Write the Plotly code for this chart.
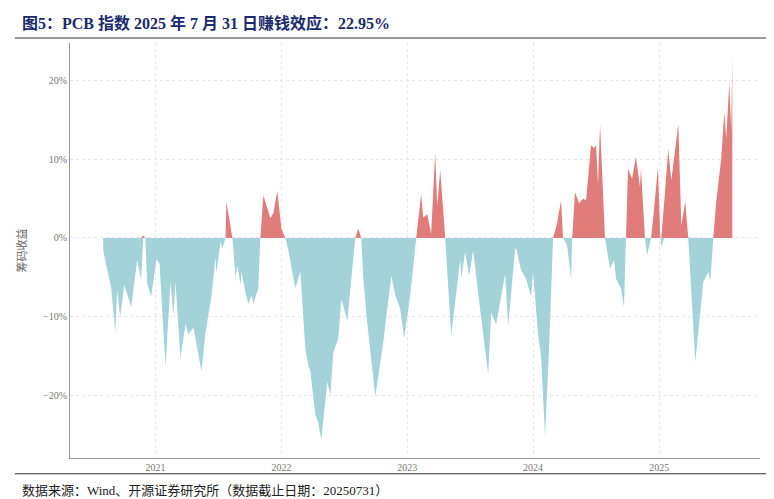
import pandas as pd
import plotly.graph_objects as go

# ==============================
# Data (decimal year, 筹码收益 %)
# ==============================
years = [2020.587, 2020.588, 2020.651, 2020.683, 2020.698, 2020.722, 2020.754, 2020.810, 2020.857, 2020.889,
         2020.905, 2020.921, 2020.937, 2020.968, 2021.008, 2021.032, 2021.079, 2021.103, 2021.119, 2021.143,
         2021.159, 2021.198, 2021.238, 2021.262, 2021.302, 2021.365, 2021.397, 2021.444, 2021.476, 2021.484,
         2021.516, 2021.532, 2021.556, 2021.563, 2021.595, 2021.611, 2021.635, 2021.651, 2021.675, 2021.683,
         2021.714, 2021.738, 2021.762, 2021.778, 2021.817, 2021.833, 2021.857, 2021.913, 2021.937, 2021.968,
         2022.000, 2022.032, 2022.056, 2022.111, 2022.151, 2022.190, 2022.214, 2022.230, 2022.270, 2022.294,
         2022.317, 2022.365, 2022.389, 2022.413, 2022.452, 2022.476, 2022.524, 2022.571, 2022.587, 2022.611,
         2022.635, 2022.651, 2022.675, 2022.746, 2022.810, 2022.873, 2022.905, 2022.944, 2022.976, 2023.024,
         2023.056, 2023.071, 2023.111, 2023.127, 2023.159, 2023.190, 2023.222, 2023.238, 2023.262, 2023.294,
         2023.302, 2023.349, 2023.421, 2023.429, 2023.460, 2023.492, 2023.524, 2023.563, 2023.643, 2023.667,
         2023.706, 2023.778, 2023.802, 2023.857, 2023.865, 2023.905, 2023.944, 2023.984, 2024.000, 2024.040,
         2024.063, 2024.095, 2024.127, 2024.159, 2024.190, 2024.222, 2024.238, 2024.270, 2024.302, 2024.310,
         2024.333, 2024.365, 2024.397, 2024.421, 2024.460, 2024.484, 2024.500, 2024.516, 2024.532, 2024.571,
         2024.611, 2024.643, 2024.659, 2024.698, 2024.722, 2024.738, 2024.754, 2024.786, 2024.817, 2024.849,
         2024.857, 2024.889, 2024.905, 2024.937, 2024.952, 2024.992, 2025.008, 2025.016, 2025.040, 2025.071,
         2025.095, 2025.151, 2025.175, 2025.206, 2025.230, 2025.286, 2025.325, 2025.349, 2025.389, 2025.405,
         2025.429, 2025.452, 2025.492, 2025.516, 2025.532, 2025.556, 2025.571, 2025.580]
returns = [0.0, -1.7, -6.4, -12.0, -6.7, -10.0, -6.0, -8.8, -2.8, -5.3,
           0.3, 0.0, -5.8, -7.5, -2.7, -3.3, -16.4, -9.0, -5.7, -9.9,
           -5.6, -15.3, -11.0, -12.3, -11.4, -17.0, -12.0, -7.5, -2.5, -4.5,
           -0.5, -1.3, 0.0, 4.6, 1.2, 0.0, -5.0, -3.5, -6.0, -4.3,
           -6.9, -8.4, -7.3, -8.4, -6.4, 0.0, 5.4, 2.5, 3.2, 6.0,
           1.2, 0.0, -1.6, -6.4, -4.3, -14.0, -16.2, -17.0, -22.5, -23.5,
           -25.7, -18.3, -20.0, -14.5, -12.8, -7.8, -10.5, -3.0, 0.0, 1.2,
           0.0, -5.2, -9.7, -20.2, -13.2, -4.8, -7.3, -9.0, -12.8, -7.3,
           -1.8, 0.0, 5.6, 2.6, 3.0, 0.5, 10.9, 4.1, 8.6, 2.6,
           0.0, -12.4, -2.7, -5.2, -1.8, -4.8, -1.6, -7.0, -17.3, -9.5,
           -11.0, -4.6, -11.2, -1.4, -1.3, -4.1, -5.2, -7.5, -4.3, -12.4,
           -15.0, -25.3, -14.0, 0.0, 1.8, 4.8, 0.0, -0.9, -5.2, 0.0,
           5.8, 4.4, 5.0, 4.8, 11.8, 11.4, 11.8, 6.9, 14.5, 0.0,
           -3.9, -2.8, -5.2, -6.4, -8.8, 0.0, 8.8, 7.5, 10.3, 6.5,
           8.8, 0.0, -2.2, 0.0, 2.2, 9.0, 0.0, -1.1, 4.8, 11.3,
           7.3, 14.5, 1.6, 4.6, 0.0, -15.8, -9.8, -5.6, -4.3, -5.6,
           0.0, 4.6, 10.1, 16.0, 12.6, 19.8, 13.5, 22.95]

df = pd.DataFrame({"year": years, "ret": returns})
df["date"] = [pd.Timestamp(int(y), 1, 1) + pd.Timedelta(days=(y - int(y)) * 365) for y in df["year"]]
df["pos"] = df["ret"].clip(lower=0)
df["neg"] = df["ret"].clip(upper=0)

# ==============================
# Figure
# ==============================
fig = go.Figure()
fig.add_trace(go.Scatter(x=df["date"], y=df["neg"], fill="tozeroy", mode="lines",
                         line=dict(width=0), fillcolor="#a3d2d8", showlegend=False))
fig.add_trace(go.Scatter(x=df["date"], y=df["pos"], fill="tozeroy", mode="lines",
                         line=dict(width=0), fillcolor="#e07d7a", showlegend=False))

fig.update_layout(
    width=774, height=499,
    margin=dict(l=62, r=22, t=35, b=49, autoexpand=False),
    plot_bgcolor="white", paper_bgcolor="white",
    font=dict(family="Liberation Serif, Noto Sans CJK SC", size=11, color="#777"),
    xaxis=dict(range=["2020-04-28", "2025-10-20"], showgrid=True, gridcolor="#e8e8e8", griddash="dot",
               tickvals=[f"{y}-01-01" for y in range(2021, 2026)], ticktext=[str(y) for y in range(2021, 2026)],
               showline=True, linecolor="#999", linewidth=1, ticks="", automargin=False,
               tickfont=dict(size=10, color="#777")),
    yaxis=dict(range=[-28, 24.8], showgrid=True, gridcolor="#e8e8e8", griddash="dot",
               tickvals=[-20, -10, 0, 10, 20], ticktext=["−20%", "−10%", "0%", "10%", "20%"],
               showline=True, linecolor="#999", linewidth=1, zeroline=False, automargin=False,
               tickfont=dict(size=10, color="#777"),
               title=dict(text="筹码收益", font=dict(size=11, color="#666"), standoff=14)),
    shapes=[
        dict(type="line", xref="paper", yref="paper", x0=-0.08, x1=1.03, y0=1.012, y1=1.012,
             line=dict(color="#333", width=1)),
        dict(type="line", xref="paper", yref="paper", x0=-0.08, x1=1.03, y0=-0.038, y1=-0.038,
             line=dict(color="#333", width=1)),
    ],
    annotations=[
        dict(text="<b>图5：PCB 指数 2025 年 7 月 31 日赚钱效应：22.95%</b>", xref="paper", yref="paper",
             x=-0.072, y=1.022, xanchor="left", yanchor="bottom", showarrow=False,
             font=dict(size=16, color="#1a2a6c", family="Liberation Serif, Noto Sans CJK SC")),
        dict(text="数据来源：Wind、开源证券研究所（数据截止日期：20250731）", xref="paper", yref="paper",
             x=-0.072, y=-0.055, xanchor="left", yanchor="top", showarrow=False,
             font=dict(size=13, color="#222", family="Liberation Serif, Noto Sans CJK SC")),
    ],
)

fig.write_html("out.html")
